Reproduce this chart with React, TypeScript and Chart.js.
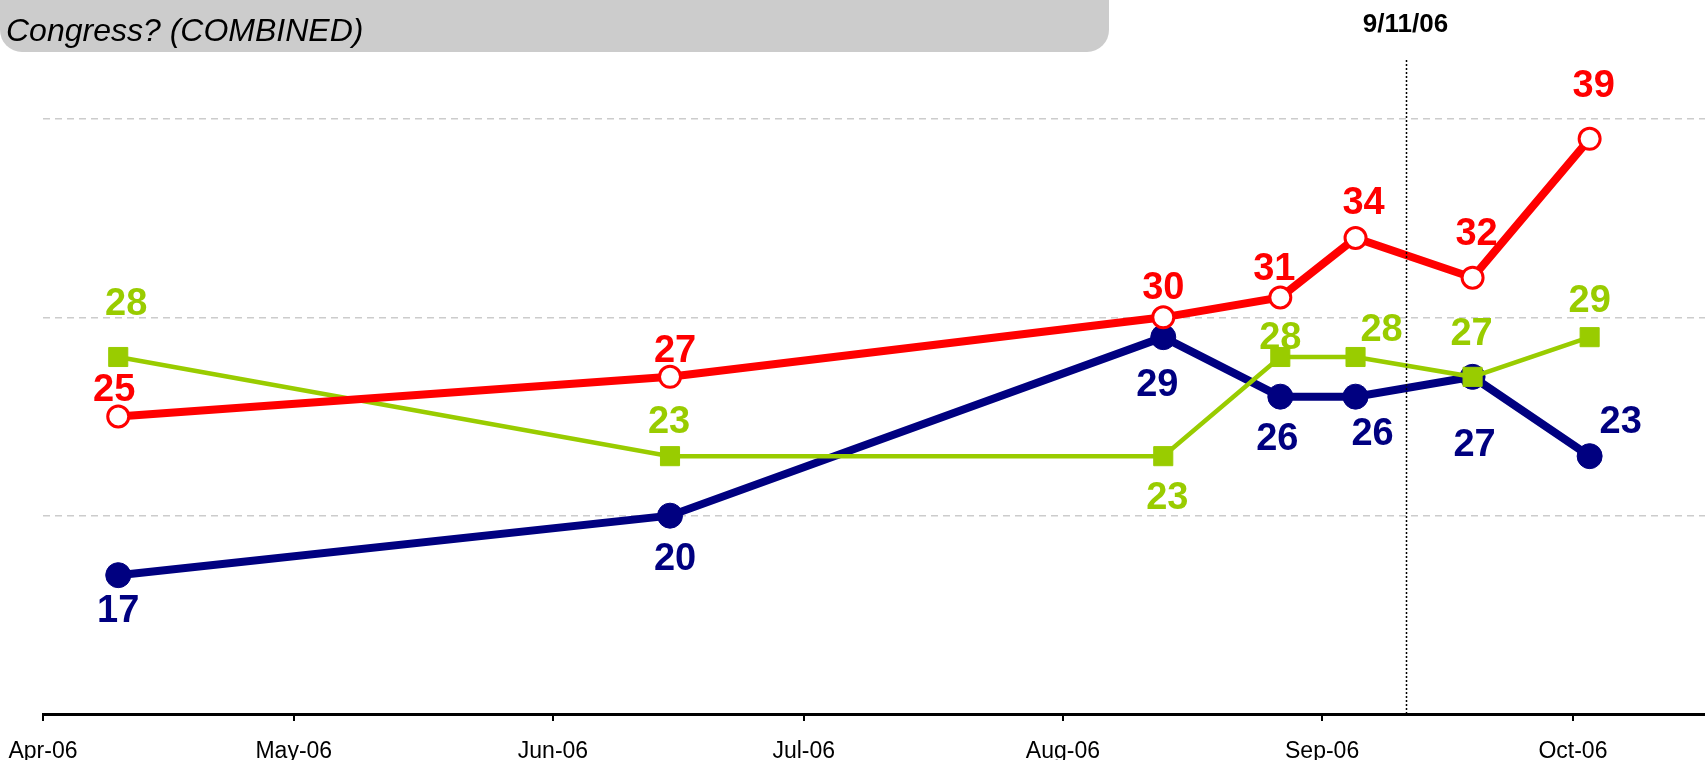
import React, { useEffect, useRef } from "react";
import { Chart, registerables } from "chart.js";

Chart.register(...registerables);

// ---- data ----
const pollDates = ["2006-04-10", "2006-06-15", "2006-08-13", "2006-08-27", "2006-09-05", "2006-09-19", "2006-10-03"];
const redValues = [25, 27, 30, 31, 34, 32, 39];
const navyValues = [17, 20, 29, 26, 26, 27, 23];
const greenValues = [28, 23, 23, 28, 28, 27, 29];

const monthTickDates = ["2006-04-01", "2006-05-01", "2006-06-01", "2006-07-01", "2006-08-01", "2006-09-01", "2006-10-01"];
const monthTickLabels = ["Apr-06", "May-06", "Jun-06", "Jul-06", "Aug-06", "Sep-06", "Oct-06"];

const eventDate = "2006-09-11";
const eventLabel = "9/11/06";
const titleText = "Congress? (COMBINED)";

const axisStartDate = "2006-04-01";
const axisEndDay = 198.8;
const yMin = 10;
const yMax = 46;
const gridValues = [20, 30, 40];

// label placement relative to each point (layout only)
const redLabelOffsets = [[-4, -30], [5, -29], [0, -32], [-6, -32], [8, -38], [4, -47], [4, -56]];
const navyLabelOffsets = [[0, 33], [5, 40], [-6, 45], [-3, 39], [17, 34], [2, 65], [31, -37]];
const greenLabelOffsets = [[8, -56], [-1, -37], [4, 39], [0, -22], [26, -30], [-1, -46], [0, -39]];

const RED = "#FF0000";
const NAVY = "#000080";
const GREEN = "#99CC00";
const FONT = "'Liberation Sans', Arial, Helvetica, sans-serif";

function dayOf(d: string): number {
  const [y, m, dd] = d.split("-").map(Number);
  const [y0, m0, d0] = axisStartDate.split("-").map(Number);
  return (Date.UTC(y, m - 1, dd) - Date.UTC(y0, m0 - 1, d0)) / 86400000;
}

const toPoints = (vals: number[]) => vals.map((v, i) => ({ x: dayOf(pollDates[i]), y: v }));

const labelsPlugin = {
  id: "pointLabels",
  afterDatasetsDraw(chart: any) {
    const ctx = chart.ctx;
    const offsetsByIndex = [redLabelOffsets, greenLabelOffsets, navyLabelOffsets];
    ctx.save();
    ctx.font = `bold 38px ${FONT}`;
    ctx.textAlign = "center";
    ctx.textBaseline = "alphabetic";
    chart.data.datasets.forEach((ds: any, di: number) => {
      const meta = chart.getDatasetMeta(di);
      const offs = offsetsByIndex[di];
      ctx.fillStyle = ds.borderColor;
      meta.data.forEach((pt: any, i: number) => {
        const v = ds.data[i].y;
        const [dx, dy] = offs[i];
        ctx.fillText(String(v), pt.x + dx, pt.y + dy + 14);
      });
    });
    ctx.restore();
  },
};

const decorPlugin = {
  id: "decor",
  afterDraw(chart: any) {
    const ctx = chart.ctx;
    const xs = chart.scales.x;
    const area = chart.chartArea;
    ctx.save();
    // event line
    const ex = Math.round(xs.getPixelForValue(dayOf(eventDate))) + 0.5;
    ctx.strokeStyle = "#000000";
    ctx.lineWidth = 1.5;
    ctx.setLineDash([2, 2]);
    ctx.beginPath();
    ctx.moveTo(ex, 60);
    ctx.lineTo(ex, area.bottom);
    ctx.stroke();
    ctx.setLineDash([]);
    ctx.fillStyle = "#000000";
    ctx.font = `bold 26px ${FONT}`;
    ctx.textAlign = "center";
    ctx.textBaseline = "alphabetic";
    ctx.fillText(eventLabel, ex - 1, 32);
    // title box
    ctx.fillStyle = "#cccccc";
    ctx.beginPath();
    (ctx as any).roundRect(0, -40, 1109, 92, [0, 0, 22, 22]);
    ctx.fill();
    ctx.fillStyle = "#000000";
    ctx.font = `italic 32px ${FONT}`;
    ctx.textAlign = "left";
    ctx.fillText(titleText, 6, 41);
    ctx.restore();
  },
};

export default function App() {
  const canvasRef = useRef<HTMLCanvasElement | null>(null);

  useEffect(() => {
    if (!canvasRef.current) return;
    const chart = new Chart(canvasRef.current, {
      type: "line",
      data: {
        datasets: [
          {
            label: "Red series",
            data: toPoints(redValues),
            borderColor: RED,
            borderWidth: 8,
            pointStyle: "circle",
            pointRadius: 10.5,
            pointBackgroundColor: "#FFFFFF",
            pointBorderColor: RED,
            pointBorderWidth: 3,
            order: 1,
          },
          {
            label: "Green series",
            data: toPoints(greenValues),
            borderColor: GREEN,
            borderWidth: 4.5,
            pointStyle: "rect",
            pointRadius: 13.5,
            pointBackgroundColor: GREEN,
            pointBorderColor: GREEN,
            pointBorderWidth: 1,
            order: 2,
          },
          {
            label: "Navy series",
            data: toPoints(navyValues),
            borderColor: NAVY,
            borderWidth: 8,
            pointStyle: "circle",
            pointRadius: 12.5,
            pointBackgroundColor: NAVY,
            pointBorderColor: NAVY,
            pointBorderWidth: 1,
            order: 3,
          },
        ],
      },
      options: {
        responsive: false,
        animation: false,
        devicePixelRatio: 1,
        layout: { autoPadding: false, padding: { left: 43, right: 0, top: 0, bottom: 0 } },
        plugins: {
          legend: { display: false },
          tooltip: { enabled: false },
        },
        elements: { line: { tension: 0 } },
        scales: {
          x: {
            type: "linear",
            min: 0,
            max: axisEndDay,
            afterBuildTicks: (scale: any) => {
              scale.ticks = monthTickDates.map((d) => ({ value: dayOf(d) }));
            },
            afterFit: (scale: any) => {
              scale.height = 46;
              scale.paddingLeft = 0;
              scale.paddingRight = 0;
            },
            ticks: {
              autoSkip: false,
              maxRotation: 0,
              padding: 17,
              color: "#000000",
              font: { family: FONT, size: 23 },
              callback: (_v: any, i: number) => monthTickLabels[i],
            },
            grid: {
              display: true,
              drawOnChartArea: false,
              drawTicks: true,
              tickLength: 7,
              color: "#000000",
              lineWidth: 2,
            },
            border: { display: true, color: "#000000", width: 3 },
          },
          y: {
            type: "linear",
            min: yMin,
            max: yMax,
            afterBuildTicks: (scale: any) => {
              scale.ticks = gridValues.map((v) => ({ value: v }));
            },
            afterFit: (scale: any) => {
              scale.width = 0;
              scale.paddingTop = 0;
              scale.paddingBottom = 0;
            },
            ticks: { display: false },
            grid: {
              display: true,
              drawTicks: false,
              color: "#cccccc",
              lineWidth: 1.5,
            },
            border: { display: false, dash: [7, 5] },
          },
        },
      },
      plugins: [labelsPlugin, decorPlugin],
    });
    return () => chart.destroy();
  }, []);

  return (
    <div style={{ position: "fixed", left: 0, top: 0, width: 1705, height: 760, background: "#ffffff" }}>
      <canvas ref={canvasRef} width={1705} height={760} style={{ display: "block" }} />
    </div>
  );
}
